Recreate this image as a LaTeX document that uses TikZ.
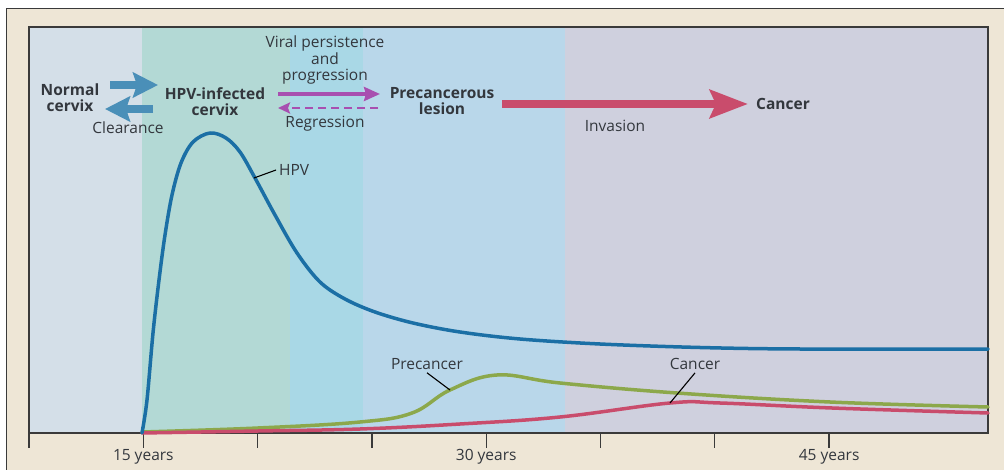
\documentclass[tikz,border=0pt]{standalone}
\usepackage{fontspec}
\setmainfont{Open Sans}
\usetikzlibrary{arrows.meta}

\definecolor{panelbeige}{HTML}{EEE6D6}
\definecolor{framegray}{HTML}{3A3A3A}
\definecolor{txtgray}{HTML}{33373D}
\definecolor{bandA}{HTML}{D4DFE8}
\definecolor{bandB}{HTML}{B3D9D5}
\definecolor{bandC}{HTML}{A9D8E6}
\definecolor{bandD}{HTML}{B9D7EA}
\definecolor{bandE}{HTML}{CFD0DE}
\definecolor{hpvblue}{HTML}{1B6FA5}
\definecolor{arrowblue}{HTML}{4A8FB8}
\definecolor{viralpurple}{HTML}{A84FB0}
\definecolor{cancerred}{HTML}{C94C6C}
\definecolor{precgreen}{HTML}{8CA84B}

\begin{document}
\begin{tikzpicture}[x=1pt,y=-1pt,
        every node/.style={text=txtgray,inner sep=0pt},
        state/.style={font=\bfseries\fontsize{15.5}{16.5}\selectfont,align=center},
        note/.style={font=\fontsize{15.5}{16.5}\selectfont,align=center},
        curvelabel/.style={font=\fontsize{15.5}{17}\selectfont,inner sep=3pt},
        yearlabel/.style={font=\fontsize{15.5}{17}\selectfont},
        curve/.style={line width=3.5pt,line join=round,line cap=round},
        leader/.style={line width=1.1pt,black}]

    \useasboundingbox (0,0) rectangle (1004,470);
    \fill[white] (0,0) rectangle (1004,470);
    \draw[fill=panelbeige,draw=framegray,line width=1pt] (6,9) rectangle (1012,478);

    % stages in the background
    \fill[bandA] (29,27) rectangle (142,433);
    \fill[bandB] (142,27) rectangle (290,433);
    \fill[bandC] (290,27) rectangle (363,433);
    \fill[bandD] (363,27) rectangle (565,433);
    \fill[bandE] (565,27) rectangle (988,433);
    \draw[framegray,line width=1.6pt] (29,27) rectangle (988,433);

    % time axis
    \foreach \k in {0,...,7}
        \draw[framegray,line width=1.3pt] (29+114.3*\k,433) -- ++(0,15);
    \node[yearlabel] (y15) at (143.3,457) {15 years};
    \node[yearlabel] (y30) at (486.2,457) {30 years};
    \node[yearlabel] (y45) at (829.1,457) {45 years};

    % curves
    \draw[curve,precgreen] plot[smooth,tension=0.65] coordinates {
        (142,432) (258,428) (360,422) (412,413) (450,390) (497,375) (560,383)
        (677,393) (830,402) (988,407)};
    \draw[curve,cancerred] plot[smooth,tension=0.65] coordinates {
        (142,433) (258,431) (360,429) (460,424) (560,417) (670,403) (720,403)
        (832,408) (988,413)};
    \draw[curve,hpvblue] plot[smooth,tension=0.55] coordinates {
        (142,433) (147,400) (153,333) (159,280) (165,235) (172,195) (181,163)
        (193,142) (210,133) (226,138) (240,152) (255,178) (275,215) (297,253)
        (320,282) (345,299) (375,312) (413,323) (460,332) (520,339) (600,344)
        (700,347.5) (800,349) (988,349)};

    \coordinate (hpvpt) at (254,178);
    \coordinate (prept) at (450,390);
    \coordinate (canpt) at (670,403);
    \node[curvelabel,anchor=west] (hpvlab) at (276,170) {HPV};
    \node[curvelabel] (prelab) at (427,364) {Precancer};
    \node[curvelabel] (canlab) at (695,364) {Cancer};
    \draw[leader] (hpvpt) -- (hpvlab.west);
    \draw[leader] (prept) -- (prelab.south);
    \draw[leader] (canpt) -- (canlab.south);

    % stages of infection
    \node[state] (normal) at (70,97.5) {Normal\\cervix};
    \node[state] (infected) at (215,101.5) {HPV-infected\\cervix};
    \node[state] (lesion) at (442,101) {Precancerous\\lesion};
    \node[state] (cancer) at (783,104) {Cancer};

    \node[note] (viral) at (325,60) {Viral persistence\\and\\progression};
    \node[note] (regression) at (325,124) {Regression};
    \node[note] (clearance) at (128,128) {Clearance};
    \node[note] (invasion) at (615,126) {Invasion};

    \draw[arrowblue,line width=8pt,-{Stealth[length=25pt,width=25pt,inset=4pt]}]
        ([shift={(40,-12.5)}]normal.center) -- ([shift={(-57,-16.5)}]infected.center);
    \draw[arrowblue,line width=8pt,-{Stealth[length=25pt,width=25pt,inset=4pt]}]
        ([shift={(-62,7.5)}]infected.center) -- ([shift={(35,11.5)}]normal.center);
    \draw[viralpurple,line width=4pt,-{Stealth[length=16pt,width=14pt,inset=2pt]}]
        ([shift={(63,-7.5)}]infected.center) -- ([shift={(-62,-7)}]lesion.center);
    \draw[viralpurple,line width=2.4pt,dash pattern=on 8pt off 5pt,
        -{Stealth[length=12pt,width=11pt,inset=2pt]}]
        ([shift={(-64,7)}]lesion.center) -- ([shift={(63,6.5)}]infected.center);
    \draw[cancerred,line width=8pt,-{Stealth[length=38pt,width=28pt,inset=6pt]}]
        ([shift={(60,3)}]lesion.center) -- ([shift={(-35,0)}]cancer.center);
\end{tikzpicture}
\end{document}
